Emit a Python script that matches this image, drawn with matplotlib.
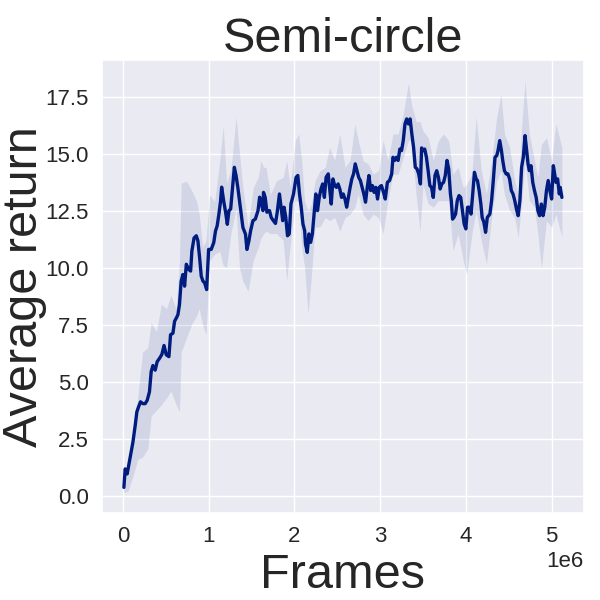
import matplotlib
matplotlib.use("Agg")
import matplotlib.pyplot as plt
import seaborn as sns
import numpy as np

# Mean curve (frames in millions, average return)
frames_m = [0.012, 0.027, 0.05, 0.078, 0.117, 0.144, 0.163, 0.183, 0.206, 0.233, 0.26, 0.284,
            0.31, 0.33, 0.35, 0.377, 0.40, 0.428, 0.455, 0.48, 0.506, 0.537, 0.556, 0.584,
            0.603, 0.623, 0.642, 0.66, 0.68, 0.70, 0.72, 0.74, 0.767, 0.79, 0.805, 0.83,
            0.856, 0.875, 0.895, 0.914, 0.934, 0.953, 0.977, 1.0, 1.03, 1.06, 1.08, 1.10,
            1.12, 1.14, 1.152, 1.175, 1.198, 1.218, 1.237, 1.257, 1.276, 1.30, 1.32, 1.34,
            1.37, 1.40, 1.43, 1.447, 1.47, 1.49, 1.517, 1.545, 1.576, 1.595, 1.615, 1.634,
            1.64, 1.66, 1.68, 1.71, 1.73, 1.755, 1.78, 1.80, 1.826, 1.845, 1.864, 1.88,
            1.90, 1.92, 1.94, 1.96, 1.99, 2.02, 2.04, 2.06, 2.08, 2.10, 2.12, 2.13,
            2.15, 2.17, 2.19, 2.21, 2.23, 2.25, 2.27, 2.29, 2.31, 2.33, 2.35, 2.37,
            2.395, 2.41, 2.43, 2.45, 2.47, 2.49, 2.51, 2.53, 2.55, 2.57, 2.59, 2.61,
            2.63, 2.65, 2.67, 2.69, 2.71, 2.73, 2.75, 2.77, 2.79, 2.81, 2.83, 2.85,
            2.87, 2.89, 2.91, 2.93, 2.95, 2.97, 2.99, 3.015, 3.04, 3.06, 3.085, 3.11,
            3.135, 3.15, 3.17, 3.19, 3.21, 3.23, 3.25, 3.27, 3.29, 3.31, 3.33, 3.35,
            3.37, 3.39, 3.41, 3.43, 3.45, 3.47, 3.484, 3.50, 3.52, 3.54, 3.56, 3.58,
            3.60, 3.62, 3.64, 3.66, 3.68, 3.70, 3.72, 3.74, 3.76, 3.78, 3.80, 3.82,
            3.83, 3.845, 3.86, 3.88, 3.90, 3.92, 3.94, 3.96, 3.98, 4.0, 4.02, 4.04,
            4.06, 4.08, 4.10, 4.12, 4.135, 4.155, 4.175, 4.19, 4.21, 4.23, 4.25, 4.28,
            4.30, 4.32, 4.34, 4.36, 4.375, 4.395, 4.415, 4.43, 4.45, 4.47, 4.49, 4.51,
            4.53, 4.55, 4.57, 4.59, 4.61, 4.63, 4.65, 4.67, 4.69, 4.705, 4.725, 4.74,
            4.76, 4.78, 4.80, 4.82, 4.84, 4.86, 4.88, 4.90, 4.92, 4.94, 4.96, 4.98,
            5.0, 5.02, 5.03, 5.05, 5.07, 5.09, 5.10, 5.12]
avg_return = [0.37, 1.18, 0.96, 1.54, 2.35, 3.09, 3.68, 3.9, 4.12, 4.04, 4.04, 4.19,
              4.56, 5.44, 5.71, 5.51, 5.88, 6.03, 6.2, 6.59, 6.18, 6.1, 7.06, 7.13,
              7.65, 7.79, 7.94, 8.38, 9.41, 9.7, 9.19, 10.15, 9.93, 9.85, 10.74, 11.3,
              11.4, 11.18, 10.44, 9.63, 9.41, 9.34, 9.04, 10.8, 10.8, 11.1, 11.6, 11.84,
              12.35, 12.94, 13.53, 12.94, 12.43, 11.9, 12.5, 12.57, 13.38, 14.4, 14.04, 13.53,
              12.65, 11.76, 11.47, 10.8, 11.18, 11.62, 12.06, 12.13, 12.5, 13.09, 12.8, 12.5,
              13.3, 13.08, 12.43, 12.5, 12.2, 12.06, 11.94, 12.43, 13.23, 12.65, 12.06, 12.65,
              12.2, 11.4, 11.48, 12.79, 13.23, 13.96, 14.04, 13.23, 12.65, 11.92, 11.62, 11.04,
              10.67, 11.48, 11.11, 11.48, 12.35, 13.23, 12.5, 13.08, 13.45, 13.67, 13.08, 13.96,
              14.11, 13.52, 12.79, 13.89, 13.6, 13.52, 13.67, 13.45, 13.08, 13.23, 13.01, 12.65,
              13.08, 13.52, 13.89, 14.11, 14.55, 14.25, 13.96, 13.82, 13.52, 13.23, 12.87, 13.52,
              14.04, 13.38, 13.6, 13.3, 13.52, 13.01, 13.52, 13.6, 13.3, 13.01, 13.74, 13.82,
              14.11, 14.84, 14.7, 14.84, 14.7, 15.2, 15.13, 15.57, 16.3, 16.52, 16.3, 16.52,
              15.86, 15.28, 14.4, 14.33, 14.11, 13.67, 15.25, 15.13, 15.2, 14.84, 14.25, 13.6,
              13.52, 13.08, 14.04, 14.25, 13.96, 13.45, 13.67, 13.74, 14.04, 14.7, 14.33, 13.23,
              12.94, 12.13, 12.2, 12.35, 12.94, 13.16, 13.08, 12.5, 11.92, 11.7, 12.65, 12.65,
              12.35, 13.23, 14.18, 13.89, 13.82, 13.38, 12.79, 12.2, 11.99, 11.55, 12.2, 12.35,
              12.94, 13.82, 14.84, 14.91, 15.13, 15.57, 15.13, 14.7, 14.25, 14.11, 14.11, 13.89,
              13.38, 13.23, 12.94, 12.57, 12.28, 12.94, 14.4, 14.84, 15.79, 15.28, 14.55, 14.25,
              14.47, 13.74, 13.38, 13.08, 12.5, 12.28, 12.79, 12.28, 12.65, 13.38, 13.82, 13.38,
              13.01, 14.47, 14.25, 13.74, 13.89, 13.23, 13.52, 13.08]

# Confidence band (frames in millions, lower, upper)
band_frames_m = [0.012, 0.06, 0.12, 0.175, 0.23, 0.29, 0.33, 0.39, 0.45, 0.51, 0.56, 0.62,
                 0.66, 0.68, 0.74, 0.80, 0.86, 0.89, 0.93, 0.97, 1.01, 1.07, 1.13, 1.17,
                 1.21, 1.26, 1.32, 1.36, 1.40, 1.46, 1.52, 1.58, 1.61, 1.64, 1.67, 1.72,
                 1.79, 1.87, 1.91, 1.95, 2.01, 2.05, 2.085, 2.12, 2.16, 2.20, 2.24, 2.30,
                 2.36, 2.41, 2.47, 2.53, 2.59, 2.65, 2.705, 2.745, 2.80, 2.86, 2.92, 2.98,
                 3.035, 3.09, 3.15, 3.21, 3.27, 3.33, 3.365, 3.42, 3.465, 3.50, 3.56, 3.62,
                 3.68, 3.74, 3.80, 3.85, 3.91, 3.97, 4.01, 4.07, 4.12, 4.18, 4.24, 4.30,
                 4.36, 4.41, 4.45, 4.51, 4.57, 4.61, 4.65, 4.69, 4.74, 4.80, 4.84, 4.88,
                 4.94, 5.0, 5.05, 5.12]
band_lower = [0.15, 0.2, 0.9, 1.6, 1.7, 2.06, 3.5, 3.75, 4.0, 4.3, 4.6, 4.0,
              3.7, 6.3, 6.9, 7.5, 7.9, 8.2, 7.5, 7.06, 10.3, 10.6, 10.7, 10.1,
              10.0, 11.5, 12.6, 10.0, 9.4, 8.97, 10.3, 10.9, 11.3, 11.48, 11.6, 11.5,
              11.5, 11.2, 9.43, 10.9, 12.94, 12.9, 10.9, 10.0, 7.97, 9.7, 11.77, 11.8,
              12.2, 12.06, 12.2, 11.6, 12.2, 12.35, 12.65, 13.23, 12.35, 12.06, 12.35, 12.2,
              11.5, 12.94, 14.1, 14.1, 14.84, 15.57, 15.57, 13.2, 11.6, 13.67, 12.8, 12.65,
              12.94, 12.94, 12.94, 10.75, 11.48, 10.3, 9.7, 11.48, 12.5, 11.2, 10.16, 12.2,
              13.8, 14.25, 13.2, 12.5, 12.2, 11.33, 12.8, 14.7, 12.94, 12.65, 11.48, 10.0,
              12.06, 11.77, 12.35, 11.33]
band_upper = [0.6, 1.5, 2.5, 4.4, 6.3, 6.5, 7.6, 7.2, 8.4, 8.2, 8.8, 8.2,
              10.3, 13.7, 13.8, 13.4, 12.9, 12.35, 10.9, 11.2, 13.2, 12.9, 14.7, 16.2,
              13.7, 14.3, 16.6, 15.0, 13.5, 11.8, 13.5, 13.97, 14.7, 14.4, 14.4, 13.2,
              13.8, 13.96, 14.7, 13.5, 15.57, 15.86, 14.7, 12.9, 12.5, 12.8, 13.8, 14.25,
              14.4, 15.28, 14.7, 15.86, 14.4, 14.7, 16.3, 15.57, 14.7, 14.55, 14.1, 14.25,
              15.57, 14.7, 15.86, 15.86, 16.74, 18.1, 17.18, 16.4, 16.4, 16.0, 15.7, 14.7,
              15.57, 15.86, 15.57, 14.1, 14.4, 13.5, 13.67, 14.1, 16.6, 14.25, 13.23, 14.7,
              16.6, 17.6, 15.86, 15.28, 13.8, 13.23, 16.15, 18.2, 15.86, 14.7, 13.96, 15.4,
              15.7, 14.7, 16.3, 15.28]

sns.set_theme(style="darkgrid")
plt.rcParams['font.family'] = ['Liberation Sans', 'DejaVu Sans']

line_color = "#001c7f"

fig = plt.figure(figsize=(6, 6), dpi=100)
ax = fig.add_axes([0.17, 0.145, 0.803, 0.755])

bx = np.array(band_frames_m) * 1e6
ax.fill_between(bx, band_lower, band_upper, color=line_color, alpha=0.1, linewidth=0)
ax.plot(np.array(frames_m) * 1e6, avg_return, color=line_color, linewidth=2.4)

ax.set_title("Semi-circle", fontsize=35)
ax.set_xlabel("Frames", fontsize=35)
ax.set_ylabel("Average return", fontsize=35)
ax.yaxis.set_label_coords(-0.115, 0.5)
ax.tick_params(labelsize=16)
ax.xaxis.get_offset_text().set_fontsize(16)

fig.savefig("out.png", dpi=100)
